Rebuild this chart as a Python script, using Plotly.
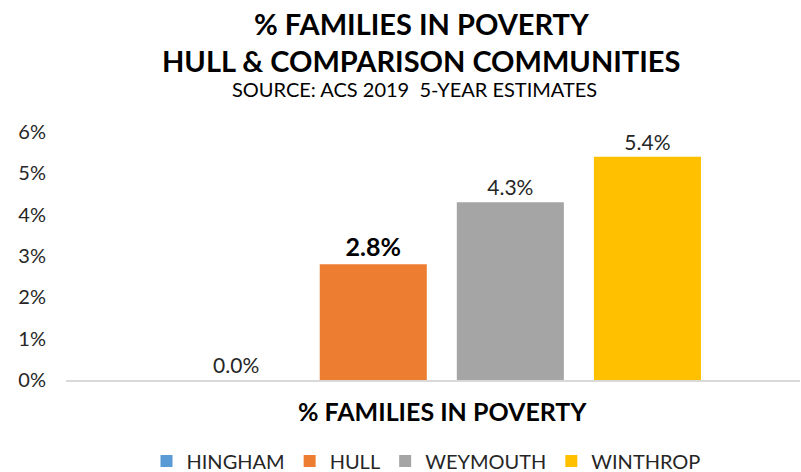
import plotly.graph_objects as go

# Share of families below the poverty line (ACS 2019 5-year estimates)
category = ["% FAMILIES IN POVERTY"]
towns = ["HINGHAM", "HULL", "WEYMOUTH", "WINTHROP"]
pct_families_poverty = [0.0, 2.8, 4.3, 5.4]
bar_colors = ["#5B9BD5", "#ED7D31", "#A5A5A5", "#FFC000"]
y_ticks = [0, 1, 2, 3, 4, 5, 6]
y_tick_labels = ["0%", "1%", "2%", "3%", "4%", "5%", "6%"]

FONT = "Lato"
W, H = 801, 472
M_L, M_R, M_T, M_B = 66, 1, 132, 92

fig = go.Figure()
for town, val, col in zip(towns, pct_families_poverty, bar_colors):
    highlight = town == "HULL"
    fig.add_trace(go.Bar(
        name=town,
        x=category,
        y=[val],
        marker=dict(color=col, line=dict(width=0)),
        text=[f"{val:.1f}%"],
        textposition="outside",
        cliponaxis=False,
        textfont=dict(
            family=FONT,
            size=25 if highlight else 21,
            color="#000000" if highlight else "#262626",
            weight="bold" if highlight else "normal",
        ),
    ))

fig.update_layout(
    width=W,
    height=H,
    barmode="group",
    bargap=0.253,
    bargroupgap=0.219,
    plot_bgcolor="white",
    paper_bgcolor="white",
    margin=dict(l=M_L, r=M_R, t=M_T, b=M_B, autoexpand=False),
    font=dict(family=FONT, color="#262626"),
    showlegend=True,
    legend=dict(
        orientation="h",
        xref="container",
        yref="container",
        x=(426 / W),
        xanchor="center",
        y=(H - 461) / H,
        yanchor="middle",
        font=dict(family=FONT, size=20, color="#262626"),
        itemwidth=30,
        traceorder="normal",
    ),
    xaxis=dict(
        range=[-0.512, 0.488],
        showline=True,
        linecolor="#D9D9D9",
        linewidth=2,
        showticklabels=False,
        ticks="",
        showgrid=False,
        zeroline=False,
    ),
    yaxis=dict(
        range=[0, 6],
        tickvals=y_ticks,
        ticktext=y_tick_labels,
        showgrid=False,
        zeroline=False,
        showline=False,
        ticks="",
        ticklabelstandoff=19,
        tickfont=dict(family=FONT, size=20, color="#262626"),
    ),
)


# Titles placed in pixel space of the figure
def cy(py):
    return (H - py) / H


def cx(px):
    return px / W


def add_text(text, px, py, size, bold):
    fig.add_annotation(
        text=text, x=cx(px), y=cy(py), xref="paper", yref="paper",
        showarrow=False, xanchor="center", yanchor="middle",
        font=dict(family=FONT, size=size, color="#000000",
                  weight="bold" if bold else "normal"),
    )


# convert container coordinates to paper coordinates of the plot area
def add_text_px(text, px, py, size, bold):
    plot_w = W - M_L - M_R
    plot_h = H - M_T - M_B
    fig.add_annotation(
        text=text, x=(px - M_L) / plot_w, y=(H - M_B - py) / plot_h,
        xref="paper", yref="paper", showarrow=False,
        xanchor="center", yanchor="middle",
        font=dict(family=FONT, size=size, color="#000000",
                  weight="bold" if bold else "normal"),
    )


add_text_px("% FAMILIES IN POVERTY", 421, 23, 29, True)
add_text_px("HULL &amp; COMPARISON COMMUNITIES", 421, 60, 29, True)
add_text_px("SOURCE: ACS 2019  5-YEAR ESTIMATES", 414, 89, 20, False)
add_text_px("% FAMILIES IN POVERTY", 442, 411, 25, True)

fig.write_html("out.html")
